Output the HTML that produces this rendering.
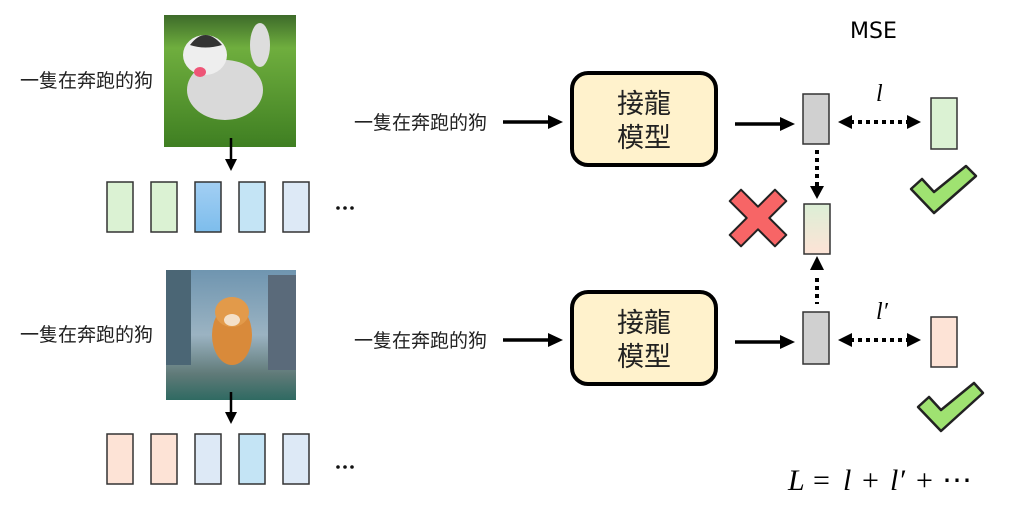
<!DOCTYPE html>
<html><head><meta charset="utf-8">
<style>
html,body{margin:0;padding:0;background:#fff;}
svg{display:block;}
.cj{font-family:"Liberation Sans","Noto Sans CJK TC",sans-serif;fill:#222;}
</style></head><body>
<svg width="1025" height="507" viewBox="0 0 1025 507" xmlns="http://www.w3.org/2000/svg">
<defs>
<linearGradient id="grass" x1="0" y1="0" x2="0" y2="1"><stop offset="0" stop-color="#3d6b2a"/><stop offset="0.25" stop-color="#6fae3e"/><stop offset="1" stop-color="#3f7f22"/></linearGradient>
<linearGradient id="city" x1="0" y1="0" x2="0" y2="1"><stop offset="0" stop-color="#6f95b0"/><stop offset="0.5" stop-color="#9bb3c2"/><stop offset="0.8" stop-color="#607a78"/><stop offset="1" stop-color="#2f6a62"/></linearGradient>
<linearGradient id="blue" x1="0" y1="0" x2="0" y2="1"><stop offset="0" stop-color="#a3cff3"/><stop offset="1" stop-color="#7dbdec"/></linearGradient>
<linearGradient id="mix" x1="0" y1="0" x2="0" y2="1"><stop offset="0" stop-color="#dcefd6"/><stop offset="1" stop-color="#fde3d6"/></linearGradient>
</defs>

<text class="cj" x="20" y="87" font-size="19">一隻在奔跑的狗</text>
<text class="cj" x="20" y="341" font-size="19">一隻在奔跑的狗</text>

<!-- Top image -->
<rect x="164" y="15" width="132" height="132" fill="url(#grass)"/>
<ellipse cx="225" cy="90" rx="38" ry="30" fill="#d9d9d9"/>
<ellipse cx="205" cy="55" rx="22" ry="20" fill="#eee"/>
<path d="M190,45 Q205,25 222,45 Q205,50 190,45z" fill="#333"/>
<ellipse cx="260" cy="45" rx="10" ry="22" fill="#ddd"/>
<ellipse cx="200" cy="72" rx="6" ry="5" fill="#e57" />
<!-- Bottom image -->
<rect x="166" y="270" width="130" height="130" fill="url(#city)"/>
<rect x="166" y="270" width="25" height="95" fill="#4b6675"/>
<rect x="268" y="275" width="28" height="95" fill="#5a6a7a"/>
<ellipse cx="232" cy="335" rx="20" ry="30" fill="#d98a3a"/>
<ellipse cx="232" cy="312" rx="17" ry="15" fill="#e29a4a"/>
<ellipse cx="232" cy="320" rx="8" ry="6" fill="#f4e0c8"/>

<!-- down arrows -->
<line x1="231" y1="138" x2="231" y2="160" stroke="#000" stroke-width="2.5"/>
<path d="M225,159 L237,159 L231,171z" fill="#000"/>
<line x1="231" y1="392" x2="231" y2="413" stroke="#000" stroke-width="2.5"/>
<path d="M225,412 L237,412 L231,424z" fill="#000"/>

<g stroke="#333" stroke-width="1.5">
<rect x="107" y="182" width="26" height="50" fill="#dbf2d3"/>
<rect x="151" y="182" width="26" height="50" fill="#dbf2d3"/>
<rect x="195" y="182" width="26" height="50" fill="url(#blue)"/>
<rect x="239" y="182" width="26" height="50" fill="#c4e4f5"/>
<rect x="283" y="182" width="26" height="50" fill="#dde9f6"/>
<rect x="107" y="434" width="26" height="50" fill="#fde3d6"/>
<rect x="151" y="434" width="26" height="50" fill="#fde3d6"/>
<rect x="195" y="434" width="26" height="50" fill="#dde9f6"/>
<rect x="239" y="434" width="26" height="50" fill="#c4e4f5"/>
<rect x="283" y="434" width="26" height="50" fill="#dde9f6"/>
</g>
<g fill="#111">
<circle cx="338" cy="208" r="1.8"/><circle cx="345" cy="208" r="1.8"/><circle cx="352" cy="208" r="1.8"/>
<circle cx="338" cy="467" r="1.8"/><circle cx="345" cy="467" r="1.8"/><circle cx="352" cy="467" r="1.8"/>
</g>

<text class="cj" x="354" y="129" font-size="19">一隻在奔跑的狗</text>
<text class="cj" x="354" y="347" font-size="19">一隻在奔跑的狗</text>
<line x1="503" y1="122" x2="550" y2="122" stroke="#000" stroke-width="3.5"/>
<path d="M548,115 L563,122 L548,129z" fill="#000"/>
<line x1="503" y1="340" x2="550" y2="340" stroke="#000" stroke-width="3.5"/>
<path d="M548,333 L563,340 L548,347z" fill="#000"/>

<rect x="572" y="73" width="144" height="92" rx="16" fill="#fff2cc" stroke="#000" stroke-width="4"/>
<text class="cj" x="644" y="113" font-size="27" text-anchor="middle">接龍</text>
<text class="cj" x="644" y="147" font-size="27" text-anchor="middle">模型</text>
<rect x="572" y="292" width="144" height="92" rx="16" fill="#fff2cc" stroke="#000" stroke-width="4"/>
<text class="cj" x="644" y="332" font-size="27" text-anchor="middle">接龍</text>
<text class="cj" x="644" y="366" font-size="27" text-anchor="middle">模型</text>

<line x1="735" y1="124" x2="782" y2="124" stroke="#000" stroke-width="3.5"/>
<path d="M780,117 L795,124 L780,131z" fill="#000"/>
<line x1="735" y1="342" x2="782" y2="342" stroke="#000" stroke-width="3.5"/>
<path d="M780,335 L795,342 L780,349z" fill="#000"/>

<g stroke="#333" stroke-width="1.5">
<rect x="803" y="94" width="26" height="50" fill="#d0d0d0"/>
<rect x="803" y="312" width="26" height="52" fill="#d0d0d0"/>
<rect x="804" y="204" width="26" height="50" fill="url(#mix)"/>
<rect x="931" y="98" width="26" height="51" fill="#dbf2d3"/>
<rect x="931" y="317" width="26" height="50" fill="#fde3d6"/>
</g>

<g stroke="#000" stroke-width="4" stroke-dasharray="4,4">
<line x1="850" y1="122" x2="908" y2="122"/>
<line x1="850" y1="340" x2="908" y2="340"/>
<line x1="817" y1="150" x2="817" y2="186"/>
<line x1="817" y1="278" x2="817" y2="304"/>
</g>
<path d="M838,122 L852,115 L852,129z" fill="#000"/>
<path d="M921,122 L907,115 L907,129z" fill="#000"/>
<path d="M838,340 L852,333 L852,347z" fill="#000"/>
<path d="M921,340 L907,333 L907,347z" fill="#000"/>
<path d="M817,199 L810,186 L824,186z" fill="#000"/>
<path d="M817,256 L810,270 L824,270z" fill="#000"/>

<text x="850" y="38" font-family="DejaVu Sans,Liberation Sans,sans-serif" font-size="22" fill="#000">MSE</text>
<text x="876" y="101" font-family="Liberation Serif,serif" font-style="italic" font-size="24" fill="#000">l</text>
<text x="876" y="319" font-family="Liberation Serif,serif" font-style="italic" font-size="24" fill="#000">l′</text>
<g font-family="Liberation Serif,serif" font-size="30" fill="#000">
<text x="788" y="490" font-style="italic">L</text>
<text x="813" y="490">=</text>
<text x="843" y="490" font-style="italic">l</text>
<text x="862" y="490">+</text>
<text x="890" y="490" font-style="italic">l′</text>
<text x="916" y="490">+</text>
<text x="942" y="490">⋯</text>
</g>

<g transform="translate(758,218) rotate(45)">
<path d="M-8,-32 h16 v24 h24 v16 h-24 v24 h-16 v-24 h-24 v-16 h24z" fill="#f76566" stroke="#222" stroke-width="2" stroke-linejoin="round"/>
</g>
<path d="M911,189 L922,179 L934,192 L966,166 L976,176 L934,213z" fill="#9fe271" stroke="#222" stroke-width="2.5" stroke-linejoin="round"/>
<path d="M918,407 L929,397 L941,410 L974,383 L983,393 L941,431z" fill="#9fe271" stroke="#222" stroke-width="2.5" stroke-linejoin="round"/>
</svg>
</body></html>
